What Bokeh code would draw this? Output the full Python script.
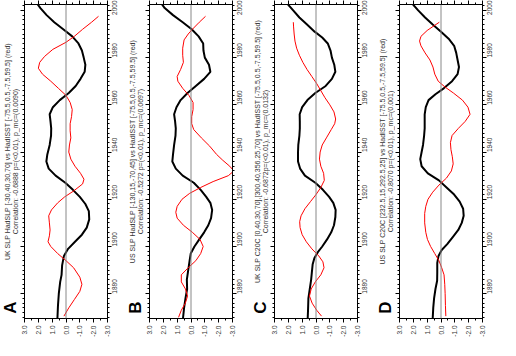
import math
from bokeh.plotting import figure
from bokeh.layouts import row
from bokeh.models import Range1d, LinearAxis, FixedTicker, PrintfTickFormatter, Span, Label
from bokeh.embed import file_html
from bokeh.resources import INLINE

panel_letters = ["A", "B", "C", "D"]
title_line1 = [
    "UK SLP HadSLP [-30,40,30,70] vs HadISST [-75.5,0.5,-7.5,59.5] (red)",
    "US SLP HadSLP [-130,15,-70,45] vs HadISST [-75.5,0.5,-7.5,59.5] (red)",
    "UK SLP C20C [0,40,30,70],[300,40,356.25,70] vs HadISST [-75.5,0.5,-7.5,59.5] (red)",
    "US SLP C20C [232.5,15,292.5,25] vs HadISST [-75.5,0.5,-7.5,59.5] (red)",
]
title_line2 = [
    "Correlation: -0.6888 p=(<0.01), p_mc=(0.0090)",
    "Correlation: -0.5272 p=(<0.01), p_mc=(0.0697)",
    "Correlation: -0.6872p=(<0.01), p_mc=(0.0132)",
    "Correlation: -0.8070 p=(<0.01), p_mc=(0.001)",
]
year_ticks = [1880, 1900, 1920, 1940, 1960, 1980, 2000]
value_ticks = [-3.0, -2.0, -1.0, 0.0, 1.0, 2.0, 3.0]

# Panel A
a_black_years = [1869.5, 1875, 1880, 1885, 1888, 1892, 1896, 1899, 1902, 1905, 1908, 1911.5, 1915, 1918, 1921, 1924, 1927, 1930, 1933, 1936, 1939, 1943, 1947, 1950, 1953, 1956, 1959, 1962, 1965, 1968, 1971, 1974, 1977, 1980, 1983, 1986, 1989, 1992, 1995, 1998, 2001, 2003]
a_black_vals = [0.62, 0.58, 0.52, 0.42, 0.32, 0.28, 0.15, -0.15, -0.65, -1.15, -1.5, -1.68, -1.65, -1.4, -1.0, -0.5, 0.05, 0.75, 1.25, 1.42, 1.35, 1.18, 1.08, 1.07, 1.12, 1.18, 0.95, 0.45, -0.2, -0.7, -1.05, -1.35, -1.4, -1.28, -1.15, -0.9, -0.45, 0.2, 0.85, 1.4, 1.85, 2.1]
a_red_years = [1870.5, 1874, 1877.5, 1881, 1884, 1887, 1891, 1894, 1897, 1900, 1902, 1904.5, 1907, 1910, 1913, 1915.5, 1918.5, 1921, 1923.5, 1926.5, 1928.5, 1931, 1934, 1937, 1940, 1943, 1946, 1949, 1952, 1955, 1958, 1961, 1964, 1967, 1970, 1973, 1975.5, 1978, 1980.5, 1983.5, 1986.5, 1989, 1992, 1995, 1997.5]
a_red_vals = [0.15, -0.2, -0.6, -1.0, -1.15, -1.0, -0.55, 0.0, 0.6, 1.1, 1.3, 1.2, 1.15, 1.2, 1.25, 1.05, 0.6, 0.1, -0.55, -1.2, -1.3, -1.05, -0.65, -0.35, -0.2, -0.25, -0.35, -0.3, -0.3, -0.4, -0.45, -0.3, 0.0, 0.55, 1.1, 1.7, 2.0, 1.9, 1.55, 0.95, 0.0, -0.6, -1.2, -1.85, -2.35]

# Panel B
b_black_years = [1869.5, 1874, 1878, 1882, 1886, 1890, 1894, 1897, 1900, 1903, 1906, 1909, 1912, 1915.5, 1918.5, 1921, 1924, 1927, 1930, 1933, 1936, 1939, 1943, 1947, 1950, 1953, 1956, 1959, 1962, 1965, 1968, 1971, 1974, 1977, 1980, 1983, 1986, 1989, 1992, 1995, 1998, 2001, 2003]
b_black_vals = [0.58, 0.5, 0.4, 0.28, 0.3, 0.2, 0.1, 0.02, -0.25, -0.6, -0.95, -1.25, -1.45, -1.53, -1.4, -1.1, -0.7, -0.2, 0.6, 1.1, 1.35, 1.3, 1.22, 1.12, 1.1, 1.15, 1.22, 1.05, 0.75, 0.25, -0.35, -0.95, -1.4, -1.3, -1.0, -0.9, -0.88, -0.55, -0.05, 0.6, 1.3, 1.9, 2.15]
b_red_years = [1870, 1873, 1876, 1879, 1882, 1885, 1888, 1891, 1894, 1897, 1900, 1903, 1906, 1909, 1912, 1914.5, 1917, 1920, 1922.5, 1925, 1927.5, 1930, 1932, 1934, 1936.5, 1939, 1942.5, 1946, 1949.5, 1952, 1955, 1958, 1961, 1964, 1967, 1970, 1972, 1975, 1978, 1981, 1984, 1987.5, 1990, 1992, 1995, 1997.5]
b_red_vals = [0.9, 0.7, 0.41, 0.25, 0.4, 0.7, 0.7, 0.2, -0.35, -0.7, -0.88, -0.65, -0.1, 0.55, 1.0, 1.1, 1.0, 0.65, 0.1, -0.7, -1.6, -2.7, -3.1, -2.8, -2.3, -1.85, -1.35, -0.75, -0.2, -0.05, -0.05, -0.15, -0.15, 0.15, 0.6, 0.95, 1.0, 0.75, 0.55, 0.6, 0.6, 0.5, 0.2, -0.1, -0.6, -1.05]

# Panel C
c_black_years = [1869.5, 1874, 1878, 1882, 1886, 1889, 1892.5, 1895, 1897.5, 1900, 1903, 1906, 1909, 1912.5, 1915.5, 1918.5, 1921, 1924, 1927, 1930, 1933, 1936, 1940, 1943, 1947, 1950, 1953, 1956, 1959, 1962, 1965, 1968, 1971, 1974, 1977, 1980, 1983, 1986, 1988.5, 1991, 1994, 1997, 2000, 2003]
c_black_vals = [0.6, 0.57, 0.55, 0.45, 0.35, 0.3, 0.24, 0.12, -0.12, -0.45, -0.8, -1.1, -1.3, -1.4, -1.42, -1.25, -0.95, -0.5, 0.05, 0.8, 1.15, 1.3, 1.3, 1.28, 1.2, 1.17, 1.17, 1.18, 1.0, 0.62, 0.05, -0.7, -1.15, -1.4, -1.32, -1.15, -1.05, -0.85, -0.45, 0.1, 0.65, 1.2, 1.65, 2.1]
c_red_years = [1870.5, 1873, 1876, 1879, 1882, 1885, 1888, 1891, 1893.5, 1896, 1899, 1902, 1905, 1908, 1910.5, 1913, 1916, 1919, 1922, 1925, 1928, 1931, 1934, 1937, 1940, 1943, 1946, 1949.5, 1952, 1954, 1957, 1960, 1963, 1966, 1969, 1972, 1975, 1978, 1981, 1984, 1987, 1990, 1993, 1995]
c_red_vals = [-0.4, -0.05, 0.28, 0.47, 0.35, 0.05, -0.35, -0.58, -0.5, -0.2, 0.3, 0.7, 1.0, 1.15, 1.18, 1.08, 0.8, 0.4, 0.0, -0.35, -0.6, -0.55, -0.35, -0.25, -0.3, -0.45, -0.75, -1.1, -1.35, -1.42, -1.3, -1.0, -0.65, -0.35, -0.05, 0.3, 0.65, 0.95, 1.2, 1.4, 1.52, 1.58, 1.62, 1.64]

# Panel D
d_black_years = [1869.5, 1874, 1878, 1882, 1885.5, 1889, 1893, 1896, 1898.5, 1901, 1904, 1907, 1910, 1913, 1916, 1919, 1922, 1925, 1928, 1931, 1934, 1937, 1940, 1943, 1947, 1950, 1953, 1956, 1959, 1962, 1964.5, 1967, 1970, 1973, 1976, 1979, 1982, 1985, 1988, 1991, 1994, 1997, 2000, 2003]
d_black_vals = [0.6, 0.56, 0.5, 0.4, 0.28, 0.27, 0.27, 0.18, -0.05, -0.45, -0.85, -1.25, -1.5, -1.64, -1.6, -1.35, -0.95, -0.4, 0.15, 0.95, 1.4, 1.5, 1.4, 1.3, 1.22, 1.18, 1.18, 1.18, 1.1, 0.9, 0.4, -0.2, -0.8, -1.2, -1.3, -1.2, -1.1, -0.95, -0.55, 0.0, 0.6, 1.15, 1.65, 2.1]
d_red_years = [1870.5, 1875, 1880, 1884, 1888, 1891, 1894, 1897, 1900, 1903, 1906, 1910, 1914, 1917, 1920, 1923, 1926, 1929, 1932, 1935, 1938, 1941, 1944, 1947, 1950, 1953, 1956, 1959, 1962, 1965, 1967.5, 1970, 1973, 1976, 1979, 1982, 1985, 1987, 1989, 1991.5, 1993.5, 1995]
d_red_vals = [-0.35, -0.32, -0.3, -0.27, -0.22, -0.05, 0.15, 0.45, 0.75, 0.98, 1.1, 1.18, 1.18, 1.1, 0.94, 0.6, 0.15, -0.4, -0.75, -0.88, -0.82, -0.72, -0.68, -0.8, -1.25, -1.75, -2.1, -1.95, -1.55, -0.9, -0.3, 0.2, 0.45, 0.58, 0.8, 1.15, 1.45, 1.55, 1.45, 1.0, 0.5, 0.12]

series = [
    (a_black_years, a_black_vals, a_red_years, a_red_vals),
    (b_black_years, b_black_vals, b_red_years, b_red_vals),
    (c_black_years, c_black_vals, c_red_years, c_red_vals),
    (d_black_years, d_black_vals, d_red_years, d_red_vals),
]

FONT = "Liberation Sans"
TXT = "#333333"
minor_years = list(range(1870, 2004, 2))
minor_vals = [v / 2 for v in range(-6, 7)]
H = 340
STRIP_W = 20
MAIN_W = 105


def style_axis(ax, ticks, minor, fmt, show_labels):
    ax.ticker = FixedTicker(ticks=ticks, minor_ticks=minor)
    ax.axis_line_color = "black"
    ax.major_tick_line_color = "black"
    ax.minor_tick_line_color = "black"
    ax.major_tick_in = 0
    ax.major_tick_out = 4
    ax.minor_tick_in = 0
    ax.minor_tick_out = 2
    if fmt is not None:
        ax.formatter = PrintfTickFormatter(format=fmt)
    if show_labels:
        ax.major_label_text_font = FONT
        ax.major_label_text_font_size = "6.5px"
        ax.major_label_text_color = TXT
        ax.major_label_orientation = math.pi / 2
        ax.major_label_standoff = 3
    else:
        ax.major_label_text_font_size = "0px"
        ax.major_label_standoff = 0


def side_label(x, y, text, size, color, style="normal"):
    return Label(x=x, y=y, x_units="screen", y_units="screen", text=text,
                 angle=math.pi / 2, text_align="center", text_baseline="middle",
                 text_font=FONT, text_font_size=size, text_font_style=style,
                 text_color=color)


items = []
for i in range(4):
    by, bv, ry, rv = series[i]

    # narrow strip holding the rotated titles and the panel letter
    tf = figure(width=STRIP_W, height=H, output_backend="svg", toolbar_location=None,
                x_range=Range1d(0, 1), y_range=Range1d(0, 1),
                x_axis_location=None, y_axis_location=None,
                min_border_left=0, min_border_right=0, min_border_top=0, min_border_bottom=0)
    tf.outline_line_color = None
    tf.grid.visible = False
    tf.add_layout(side_label(6.5, 167, title_line1[i], "7px", TXT))
    tf.add_layout(side_label(15, 157, title_line2[i], "7px", TXT))
    tf.add_layout(side_label(10, 11, panel_letters[i], "17px", "black", "bold"))

    p = figure(width=MAIN_W, height=H, output_backend="svg", toolbar_location=None,
               x_range=Range1d(3.0, -3.0), y_range=Range1d(1869.5, 2002.5),
               x_axis_location="below", y_axis_location="right",
               min_border_left=4, min_border_right=18, min_border_top=2, min_border_bottom=22)
    p.grid.visible = False
    p.outline_line_color = "black"
    style_axis(p.xaxis[0], value_ticks, minor_vals, "%.1f", True)
    style_axis(p.yaxis[0], year_ticks, minor_years, "%d", True)
    top = LinearAxis()
    style_axis(top, value_ticks, minor_vals, None, False)
    p.add_layout(top, "above")
    left = LinearAxis()
    style_axis(left, year_ticks, minor_years, None, False)
    p.add_layout(left, "left")

    p.add_layout(Span(location=0, dimension="height", line_color="#888888", line_width=1))
    p.line(x=bv, y=by, line_color="black", line_width=2)
    p.line(x=rv, y=ry, line_color="#ff0000", line_width=1)

    items.extend([tf, p])

layout = row(*items)
open("out.html", "w").write(file_html(layout, INLINE))
